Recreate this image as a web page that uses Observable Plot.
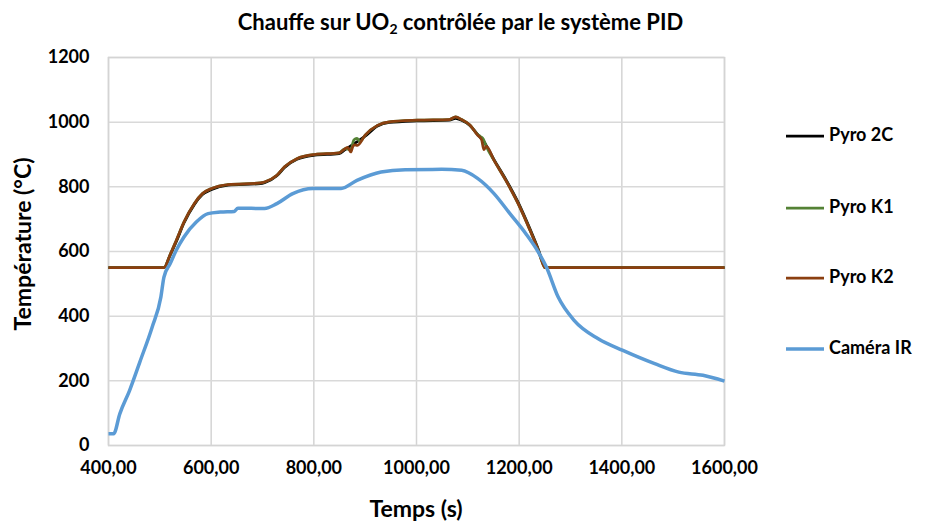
<!DOCTYPE html>
<html>
<head>
<meta charset="utf-8">
<script src="https://cdn.jsdelivr.net/npm/d3@7"></script>
<script src="https://cdn.jsdelivr.net/npm/@observablehq/plot@0.6"></script>
<style>
  body { margin: 0; background: #fff; font-family: Lato, "Open Sans", sans-serif; }
  #title { height: 40px; line-height: 44px; text-align: center; font-weight: bold; font-size: 22px; color: #000; padding-right: 4px; }
  #title sub { font-size: 14px; vertical-align: -4px; line-height: 0; }
</style>
</head>
<body>
<div id="title">Chauffe sur UO<sub>2</sub> contrôlée par le système PID</div>
<div id="chart"></div>
<script>
// Axis ticks
const xTicks = [400, 600, 800, 1000, 1200, 1400, 1600];
const yTicks = [0, 200, 400, 600, 800, 1000, 1200];

// Series names and colours
const seriesNames = ["Pyro 2C", "Pyro K1", "Pyro K2", "Caméra IR"];
const seriesColors = ["#000000", "#548235", "#8B3F10", "#5B9BD5"];

// Pyro 2C: time (s) and temperature (°C)
const pyro2C_t = [400, 508, 520, 532, 547, 567, 583, 601, 633, 696, 704, 728, 743, 767, 802, 849, 861, 880, 900, 924, 947, 1002, 1064, 1076, 1088, 1104, 1119, 1131, 1151, 1174, 1198, 1221, 1237, 1249, 1252, 1600];
const pyro2C_v = [550, 550, 588, 630, 688, 745, 776, 792, 805, 810, 813, 834, 860, 885, 898, 903, 915, 935, 957, 988, 999, 1004, 1006, 1012, 1006, 990, 962, 940, 884, 823, 752, 670, 608, 556, 550, 550];

// Pyro K1
const pyroK1_t = [400, 508, 520, 532, 547, 567, 583, 601, 633, 696, 704, 728, 743, 767, 802, 849, 861, 872, 878, 884, 890, 900, 924, 947, 1002, 1064, 1076, 1088, 1104, 1119, 1125, 1130, 1136, 1151, 1174, 1198, 1221, 1237, 1249, 1250, 1600];
const pyroK1_v = [550, 550, 590, 634, 691, 748, 779, 795, 807, 812, 815, 836, 862, 887, 900, 905, 918, 915, 945, 950, 940, 960, 990, 1001, 1006, 1008, 1016, 1008, 991, 962, 955, 948, 925, 882, 820, 748, 666, 604, 552, 550, 550];

// Pyro K2
const pyroK2_t = [400, 508, 520, 532, 547, 567, 583, 601, 633, 696, 704, 728, 743, 767, 802, 849, 861, 866, 872, 876, 880, 885, 900, 924, 947, 1002, 1064, 1076, 1088, 1104, 1119, 1127, 1131, 1136, 1151, 1174, 1198, 1221, 1237, 1249, 1250, 1600];
const pyroK2_v = [550, 550, 590, 634, 691, 748, 779, 795, 807, 812, 815, 836, 862, 887, 900, 905, 918, 922, 908, 925, 930, 928, 960, 990, 1001, 1006, 1008, 1016, 1008, 991, 960, 945, 915, 925, 882, 820, 748, 666, 604, 552, 550, 550];

// Caméra IR
const camIR_t = [400, 410, 422, 441, 461, 485, 502, 508, 520, 532, 547, 571, 594, 618, 645, 652, 704, 728, 759, 798, 853, 884, 931, 978, 1049, 1088, 1119, 1151, 1182, 1213, 1237, 1253, 1276, 1307, 1354, 1402, 1464, 1511, 1558, 1600];
const camIR_v = [36, 36, 98, 170, 258, 366, 459, 521, 562, 604, 645, 691, 717, 722, 724, 734, 733, 748, 779, 795, 795, 820, 846, 853, 854, 851, 826, 779, 717, 655, 599, 552, 459, 387, 330, 294, 253, 227, 217, 199];

const toRows = (ts, vs, name) => ts.map((t, i) => ({t, v: vs[i], name}));
const rows = [
  ...toRows(pyro2C_t, pyro2C_v, seriesNames[0]),
  ...toRows(pyroK1_t, pyroK1_v, seriesNames[1]),
  ...toRows(pyroK2_t, pyroK2_v, seriesNames[2]),
  ...toRows(camIR_t, camIR_v, seriesNames[3])
];

const fmtX = d => d.toFixed(2).replace(".", ",");
const fmtY = d => String(d);
const font = "Lato, 'Open Sans', sans-serif";
const widths = [2.75, 2.75, 2.75, 3.5];

const lineOf = i => Plot.line(rows.filter(r => r.name === seriesNames[i]), {
  x: "t", y: "v", stroke: seriesColors[i], strokeWidth: widths[i],
  curve: "monotone-x", strokeLinejoin: "round", strokeLinecap: "butt"
});

const chart = Plot.plot({
  width: 925,
  height: 482,
  marginTop: 17,
  marginBottom: 77,
  marginLeft: 108,
  marginRight: 201,
  style: {fontFamily: font, background: "#fff", color: "#000"},
  x: {domain: [400, 1600], label: null},
  y: {domain: [0, 1200], label: null},
  marks: [
    Plot.gridX(xTicks, {stroke: "#d4d4d4", strokeOpacity: 1, strokeWidth: 1.5}),
    Plot.gridY(yTicks, {stroke: "#d9d9d9", strokeOpacity: 1, strokeWidth: 1.5}),
    Plot.frame({stroke: "#d4d4d4", strokeWidth: 1.5}),
    Plot.axisX(xTicks, {tickSize: 0, tickPadding: 16, tickFormat: fmtX, fontSize: 18, fontWeight: "bold", label: null}),
    Plot.axisY(yTicks, {tickSize: 0, tickPadding: 19, tickFormat: fmtY, fontSize: 18, fontWeight: "bold", label: null}),
    lineOf(0),
    lineOf(1),
    lineOf(2),
    lineOf(3)
  ]
});

const svg = d3.select(chart);
// Axis titles
svg.append("text")
  .attr("x", 416).attr("y", 471)
  .attr("text-anchor", "middle").attr("dominant-baseline", "middle")
  .style("font", `bold 23px ${font}`).text("Temps (s)");
svg.append("text")
  .attr("transform", "translate(25,204) rotate(-90)")
  .attr("text-anchor", "middle").attr("dominant-baseline", "middle")
  .style("font", `bold 23px ${font}`).text("Température (°C)");

// Legend
const legendY = [96, 168, 238, 309];
const lg = svg.append("g").attr("text-anchor", "start");
seriesNames.forEach((name, i) => {
  lg.append("line")
    .attr("x1", 786).attr("x2", 824).attr("y1", legendY[i]).attr("y2", legendY[i])
    .attr("stroke", seriesColors[i]).attr("stroke-width", widths[i]);
  lg.append("text")
    .attr("x", 829).attr("y", legendY[i])
    .attr("text-anchor", "start").attr("dominant-baseline", "middle")
    .style("font", `bold 18px ${font}`).text(name);
});

document.getElementById("chart").appendChild(chart);
</script>
</body>
</html>
